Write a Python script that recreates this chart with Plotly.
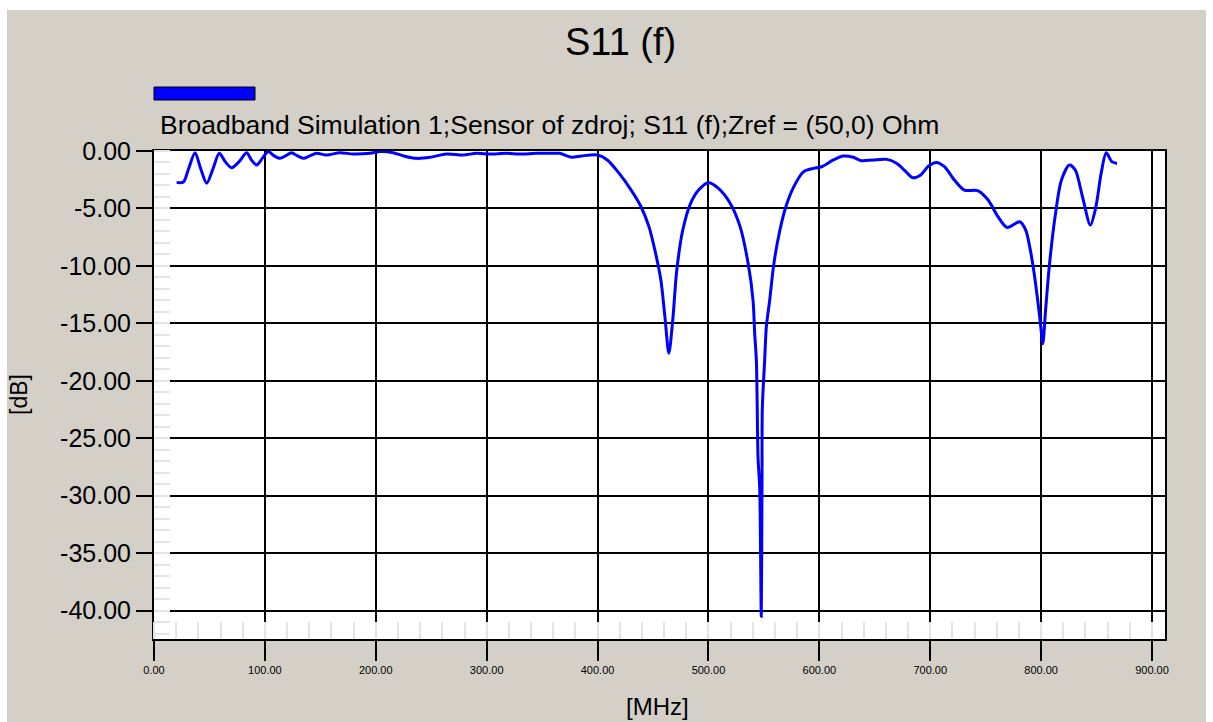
import plotly.graph_objects as go

# S11 magnitude (dB) versus frequency (MHz)
freq_mhz = [
    20.4, 26.5, 31.0, 37.0, 42.0, 47.5, 53.0, 58.9, 64.0, 70.0,
    77.0, 83.5, 88.0, 92.5, 98.0, 103.0, 108.0, 113.5, 119.0, 124.0,
    129.0, 134.6, 141.0, 146.6, 155.6, 167.6, 179.6, 194.7, 203.7, 215.7,
    226.0, 236.8, 248.8, 263.8, 278.8, 290.8, 302.8, 317.9, 329.9, 344.9,
    362.9, 365.9, 376.6, 385.6, 399.9, 408.8, 419.5, 430.3, 439.2, 446.4,
    451.7, 457.1, 460.7, 464.3, 467.8, 471.4, 476.8, 483.9, 491.1, 500.0,
    509.0, 519.7, 528.6, 535.8, 540.2, 541.7, 543.2, 543.8, 544.7, 546.2,
    547.0, 547.6, 548.0, 548.3, 548.6, 550.7, 552.2, 555.2, 559.0, 564.4,
    569.8, 577.0, 585.9, 594.8, 602.0, 612.7, 621.6, 630.6, 637.7, 648.4,
    660.9, 669.9, 677.1, 684.2, 691.4, 698.5, 705.7, 712.8, 721.8, 730.7,
    743.2, 752.2, 761.1, 769.3, 780.8, 786.1, 789.7, 793.3, 796.9, 799.7,
    801.5, 804.0, 807.6, 813.0, 818.3, 825.5, 830.8, 837.3, 844.4, 849.4,
    854.1, 858.7, 863.7, 868.4,
]
s11_db = [
    -2.73, -2.70, -1.60, -0.15, -1.50, -2.80, -1.60, -0.20, -0.90, -1.45,
    -0.90, -0.15, -0.80, -1.22, -0.60, -0.05, -0.40, -0.64, -0.40, -0.15,
    -0.40, -0.64, -0.40, -0.20, -0.35, -0.15, -0.26, -0.20, -0.05, -0.15,
    -0.45, -0.64, -0.55, -0.26, -0.35, -0.20, -0.26, -0.20, -0.26, -0.20,
    -0.20, -0.20, -0.55, -0.43, -0.35, -0.78, -1.95, -3.40, -4.85, -6.60,
    -8.63, -11.25, -14.40, -17.60, -14.70, -10.40, -6.90, -4.56, -3.40, -2.76,
    -3.25, -4.56, -6.60, -9.80, -13.00, -15.90, -18.20, -21.10, -26.65, -29.30,
    -35.00, -40.50, -35.00, -28.70, -22.30, -18.20, -15.30, -13.00, -9.80, -6.90,
    -4.85, -3.10, -1.80, -1.51, -1.37, -0.78, -0.44, -0.55, -0.84, -0.78,
    -0.73, -1.08, -1.71, -2.33, -2.09, -1.31, -0.99, -1.37, -2.53, -3.40,
    -3.46, -4.27, -5.72, -6.66, -6.16, -6.89, -8.34, -10.37, -12.99, -15.30,
    -16.77, -13.86, -9.79, -5.43, -2.53, -1.22, -1.66, -3.98, -6.45, -4.85,
    -1.95, -0.15, -0.93, -1.08,
]

y_tick_vals = [0, -5, -10, -15, -20, -25, -30, -35, -40]
y_tick_text = ["0.00", "-5.00", "-10.00", "-15.00", "-20.00",
               "-25.00", "-30.00", "-35.00", "-40.00"]
x_tick_vals = [0, 100, 200, 300, 400, 500, 600, 700, 800, 900]
x_tick_text = ["0.00", "100.00", "200.00", "300.00", "400.00",
               "500.00", "600.00", "700.00", "800.00", "900.00"]

chart_title = "S11 (f)"
trace_label = "Broadband Simulation 1;Sensor of zdroj; S11 (f);Zref = (50,0) Ohm"
x_title = "[MHz]"
y_title = "[dB]"

FONT = "Liberation Sans, Arial, sans-serif"
PANEL = "#D4D0C8"
TRACE_COLOR = "#0000FF"

# figure / plot-area geometry in pixels
W, H = 1213, 722
L, R, T, B = 154, 1165, 151, 639
PW, PH = R - L, B - T


def px(xp):
    return (xp - L) / PW


def py(yp):
    return (B - yp) / PH


fig = go.Figure()
fig.add_trace(go.Scatter(
    x=freq_mhz, y=s11_db, mode="lines", name=trace_label,
    line=dict(color=TRACE_COLOR, width=3, shape="spline", smoothing=0.8),
    showlegend=False,
))

fig.update_layout(
    width=W, height=H,
    margin=dict(l=L, r=W - R, t=T, b=H - B, pad=0),
    paper_bgcolor="white", plot_bgcolor="white",
    font=dict(family=FONT, color="black"),
    shapes=[
        # grey window panel behind everything
        dict(type="rect", xref="paper", yref="paper",
             x0=px(7), x1=px(1206), y0=py(722), y1=py(10),
             fillcolor=PANEL, line=dict(width=0), layer="below"),
        dict(type="rect", xref="paper", yref="paper",
             x0=0, x1=1, y0=0, y1=1,
             fillcolor="white", line=dict(width=0), layer="below"),
        # legend swatch
        dict(type="rect", xref="paper", yref="paper",
             x0=px(154), x1=px(255), y0=py(100), y1=py(87),
             fillcolor=TRACE_COLOR, line=dict(color="black", width=1)),
    ],
    annotations=[
        dict(text=chart_title, xref="paper", yref="paper",
             x=px(620), y=py(42), xanchor="center", yanchor="middle",
             showarrow=False, font=dict(size=38, family=FONT)),
        dict(text=trace_label, xref="paper", yref="paper",
             x=px(158), y=py(125), xanchor="left", yanchor="middle",
             showarrow=False, font=dict(size=26.5, family=FONT)),
        dict(text=x_title, xref="paper", yref="paper",
             x=px(657), y=py(706), xanchor="center", yanchor="middle",
             showarrow=False, font=dict(size=24, family=FONT)),
        dict(text=y_title, xref="paper", yref="paper", textangle=-90,
             x=px(19), y=py(395), xanchor="center", yanchor="middle",
             showarrow=False, font=dict(size=23, family=FONT)),
    ],
)

fig.update_xaxes(
    range=[0, 911.7], tickmode="array", tickvals=x_tick_vals, ticktext=x_tick_text,
    ticks="outside", ticklen=20, tickwidth=2, tickcolor="black",
    tickfont=dict(size=11, family=FONT),
    showgrid=True, gridcolor="black", gridwidth=1.5, zeroline=False,
    showline=True, linecolor="black", linewidth=2, mirror=True,
    minor=dict(ticks="inside", dtick=20, ticklen=17, tickwidth=2,
               tickcolor="#E4E4E4", showgrid=False),
)
fig.update_yaxes(
    range=[-42.47, 0], tickmode="array", tickvals=y_tick_vals, ticktext=y_tick_text,
    ticks="outside", ticklen=16, tickwidth=2, tickcolor="black",
    tickfont=dict(size=25, family=FONT),
    showgrid=True, gridcolor="black", gridwidth=1.5, zeroline=False,
    showline=True, linecolor="black", linewidth=2, mirror=True,
    minor=dict(ticks="inside", dtick=1, ticklen=16, tickwidth=2,
               tickcolor="#E4E4E4", showgrid=False),
)

fig.write_html("out.html")
